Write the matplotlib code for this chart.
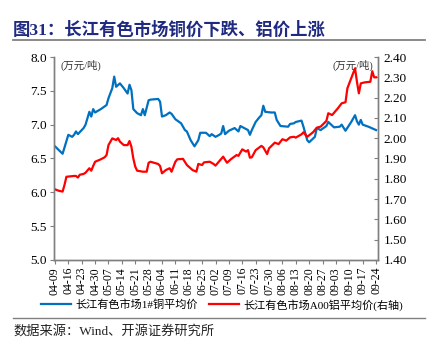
import numpy as np
import pandas as pd
import matplotlib
matplotlib.use("Agg")
import matplotlib.pyplot as plt
from matplotlib.lines import Line2D

# 长江有色市场1#铜平均价 (万元/吨, left axis)
cu_dates = ["04-09", "04-13", "04-16", "04-18", "04-19", "04-20", "04-21", "04-24",
            "04-25", "04-27", "04-28", "04-29", "04-30", "05-03", "05-06", "05-07",
            "05-09", "05-10", "05-11", "05-13", "05-15", "05-17", "05-18", "05-19",
            "05-20", "05-22", "05-24", "05-25", "05-26", "05-28", "05-29", "06-02",
            "06-03", "06-04", "06-06", "06-08", "06-09", "06-11", "06-14", "06-16",
            "06-17", "06-19", "06-21", "06-23", "06-24", "06-27", "06-29", "06-30",
            "07-02", "07-04", "07-05", "07-06", "07-07", "07-09", "07-12", "07-14",
            "07-15", "07-17", "07-19", "07-20", "07-21", "07-23", "07-25", "07-26",
            "07-27", "07-28", "07-31", "08-02", "08-03", "08-05", "08-09", "08-10",
            "08-12", "08-13", "08-16", "08-17", "08-19", "08-20", "08-23", "08-24",
            "08-26", "08-29", "08-30", "09-02", "09-05", "09-06", "09-08", "09-11",
            "09-13", "09-14", "09-15", "09-16", "09-17", "09-20", "09-24"]
cu_price = [6.68, 6.57, 6.85, 6.82, 6.85, 6.90, 6.86, 6.95,
            7.00, 7.19, 7.12, 7.23, 7.18, 7.23, 7.29, 7.39,
            7.54, 7.71, 7.56, 7.61, 7.54, 7.46, 7.59, 7.51,
            7.23, 7.17, 7.14, 7.23, 7.14, 7.36, 7.37, 7.38,
            7.34, 7.12, 7.14, 7.18, 7.16, 7.08, 7.02, 6.92,
            6.90, 6.77, 6.68, 6.77, 6.88, 6.88, 6.83, 6.86,
            6.82, 6.85, 6.87, 6.98, 6.86, 6.91, 6.95, 6.90,
            6.98, 6.95, 6.92, 6.85, 6.92, 7.04, 7.11, 7.14,
            7.28, 7.19, 7.18, 7.18, 7.07, 6.98, 6.97, 7.01,
            7.02, 7.04, 7.06, 6.97, 6.77, 6.74, 6.82, 6.95,
            6.92, 6.98, 7.04, 6.96, 6.97, 7.00, 6.91, 7.04,
            7.14, 7.05, 7.00, 7.07, 7.00, 6.97, 6.92]

# 长江有色市场A00铝平均价 (万元/吨, right axis)
al_dates = ["04-09", "04-11", "04-13", "04-14", "04-15", "04-19", "04-20", "04-21",
            "04-22", "04-24", "04-25", "04-27", "04-28", "04-29", "04-30", "05-03",
            "05-05", "05-06", "05-07", "05-09", "05-11", "05-12", "05-13", "05-15",
            "05-17", "05-18", "05-19", "05-20", "05-21", "05-22", "05-25", "05-27",
            "05-28", "05-29", "06-02", "06-03", "06-04", "06-06", "06-08", "06-09",
            "06-11", "06-12", "06-15", "06-17", "06-20", "06-22", "06-23", "06-25",
            "06-26", "06-29", "07-01", "07-02", "07-03", "07-06", "07-08", "07-10",
            "07-13", "07-14", "07-16", "07-18", "07-19", "07-20", "07-21", "07-23",
            "07-26", "07-27", "07-29", "07-30", "08-02", "08-04", "08-06", "08-08",
            "08-10", "08-12", "08-13", "08-16", "08-17", "08-19", "08-22", "08-24",
            "08-26", "08-29", "08-30", "09-01", "09-04", "09-06", "09-08", "09-09",
            "09-12", "09-13", "09-14", "09-15", "09-16", "09-18", "09-21", "09-22",
            "09-23", "09-24"]
al_price = [1.748, 1.741, 1.737, 1.770, 1.810, 1.814, 1.814, 1.806,
            1.820, 1.824, 1.830, 1.852, 1.840, 1.863, 1.884, 1.896,
            1.906, 1.917, 1.966, 1.999, 1.991, 2.000, 1.983, 1.966,
            1.966, 1.986, 1.958, 1.900, 1.860, 1.840, 1.835, 1.835,
            1.879, 1.884, 1.873, 1.863, 1.827, 1.843, 1.852, 1.835,
            1.884, 1.896, 1.898, 1.868, 1.843, 1.835, 1.873, 1.868,
            1.881, 1.884, 1.873, 1.865, 1.876, 1.909, 1.879, 1.896,
            1.917, 1.913, 1.945, 1.934, 1.941, 1.904, 1.906, 1.941,
            1.962, 1.955, 1.922, 1.950, 1.978, 1.971, 1.995, 1.988,
            2.004, 2.007, 2.003, 2.019, 2.029, 2.007, 2.029, 2.052,
            2.057, 2.085, 2.123, 2.114, 2.147, 2.172, 2.177, 2.246,
            2.320, 2.344, 2.278, 2.221, 2.270, 2.275, 2.278, 2.330,
            2.300, 2.300]

cu_label = "长江有色市场1#铜平均价"
al_label = "长江有色市场A00铝平均价(右轴)"
title = "图31：长江有色市场铜价下跌、铝价上涨"
source = "数据来源：Wind、开源证券研究所"

cu_x = pd.to_datetime(["2021-" + d for d in cu_dates])
al_x = pd.to_datetime(["2021-" + d for d in al_dates])
ticks = pd.date_range("2021-04-09", "2021-09-24", freq="7D")

num_font = "Liberation Serif"
cjk = "Noto Sans CJK SC"
mixed = [num_font, cjk]

fig = plt.figure(figsize=(4.39, 3.51), dpi=100)
ax = fig.add_axes([0.123, 0.2593, 0.738, 0.5783])
ax2 = ax.twinx()

ax.plot(cu_x, cu_price, color="#0070C0", lw=1.6)
ax2.plot(al_x, al_price, color="#FF0000", lw=1.6)

ax.set_ylim(5.0, 8.0)
ax.set_yticks(np.arange(5.0, 8.01, 0.5))
ax.set_yticklabels([f"{v:.1f}" for v in np.arange(5.0, 8.01, 0.5)],
                   fontfamily=num_font, fontsize=9.5)
ax2.set_ylim(1.40, 2.40)
ax2.set_yticks(np.arange(1.40, 2.401, 0.10))
ax2.set_yticklabels([f"{v:.2f}" for v in np.arange(1.40, 2.401, 0.10)],
                    fontfamily=num_font, fontsize=9.5)

ax.set_xlim(pd.Timestamp("2021-04-08 12:00"), pd.Timestamp("2021-09-25"))
ax.set_xticks(ticks)
ax.set_xticklabels([t.strftime("%m-%d") for t in ticks], rotation=90,
                   fontfamily=num_font, fontsize=8.5)

for a in (ax, ax2):
    a.spines["top"].set_visible(False)
    for s in ("left", "right", "bottom"):
        a.spines[s].set_color("#7f7f7f")
        a.spines[s].set_linewidth(1.0)
ax.tick_params(axis="y", direction="out", length=3, color="#7f7f7f", pad=2)
ax.tick_params(axis="x", direction="out", length=3, color="#7f7f7f", pad=2)
ax2.tick_params(axis="y", direction="in", length=3, color="#7f7f7f", pad=4)

ax.text(0.02, 0.985, "(万元/吨)", transform=ax.transAxes, ha="left", va="top",
        fontsize=7.5, family=mixed, color="#333333")
ax.text(0.985, 0.985, "(万元/吨)", transform=ax.transAxes, ha="right", va="top",
        fontsize=7.5, family=mixed, color="#333333")

# title and rules
fig.text(0.03, 0.915, title, ha="left", va="center", fontsize=12.5,
         fontweight="bold", family=mixed, color="#1F2A80")
fig.add_artist(Line2D([0.03, 0.968], [0.886, 0.886], color="#808080", lw=1.3))
fig.add_artist(Line2D([0.03, 0.968], [0.094, 0.094], color="#808080", lw=1.0))
fig.text(0.03, 0.057, source, ha="left", va="center", fontsize=9.5,
         family=mixed, color="#222222")

handles = [Line2D([], [], color="#0070C0", lw=1.6),
           Line2D([], [], color="#FF0000", lw=1.6)]
fig.legend(handles, [cu_label, al_label], loc="center", ncol=2,
           bbox_to_anchor=(0.505, 0.132), frameon=False, handlelength=2.7,
           columnspacing=1.0, handletextpad=0.4,
           prop={"family": mixed, "size": 8})

fig.savefig("out.png", dpi=100)
